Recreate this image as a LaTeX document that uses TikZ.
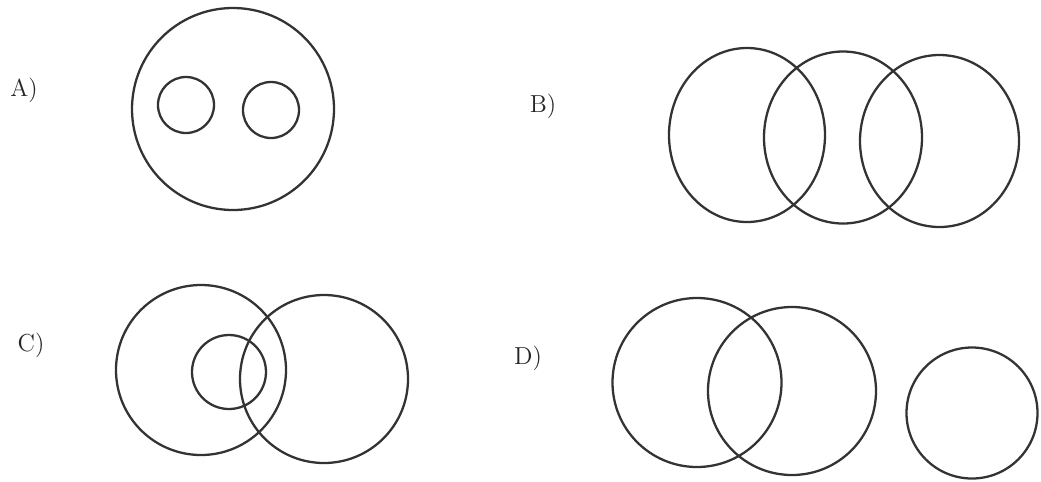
\documentclass[tikz,border=0pt]{standalone}
\usepackage{tikz}

\begin{document}
\begin{tikzpicture}[
        x=0.02cm, y=-0.02cm,
        ring/.style={draw=black!80, line width=1.3pt},
        etiqueta/.style={font=\fontsize{14}{16}\selectfont, text=black!85, inner sep=0pt}
    ]
        \useasboundingbox (0,0) rectangle (1041,481);

        % A) two small circles inside a big one
        \node[etiqueta] (la) at (24,90) {A)};
        \draw[ring] (233,109) circle (101);
        \draw[ring] (186,105) circle (28);
        \draw[ring] (271,110) circle (28);

        % B) chain of three
        \node[etiqueta] (lb) at (543,106) {B)};
        \draw[ring] (747,135) ellipse (78 and 87);
        \draw[ring] (843,137.5) ellipse (79 and 86);
        \draw[ring] (939.5,141) ellipse (79.5 and 86);

        % C)
        \node[etiqueta] (lc) at (31,345) {C)};
        \draw[ring] (201,370) circle (85);
        \draw[ring] (229,372) circle (37);
        \draw[ring] (324,379) circle (84);

        % D)
        \node[etiqueta] (ld) at (528,358) {D)};
        \draw[ring] (697,382.5) circle (84.5);
        \draw[ring] (792,391) circle (84);
        \draw[ring] (972,413) circle (65.5);
    \end{tikzpicture}
\end{document}
